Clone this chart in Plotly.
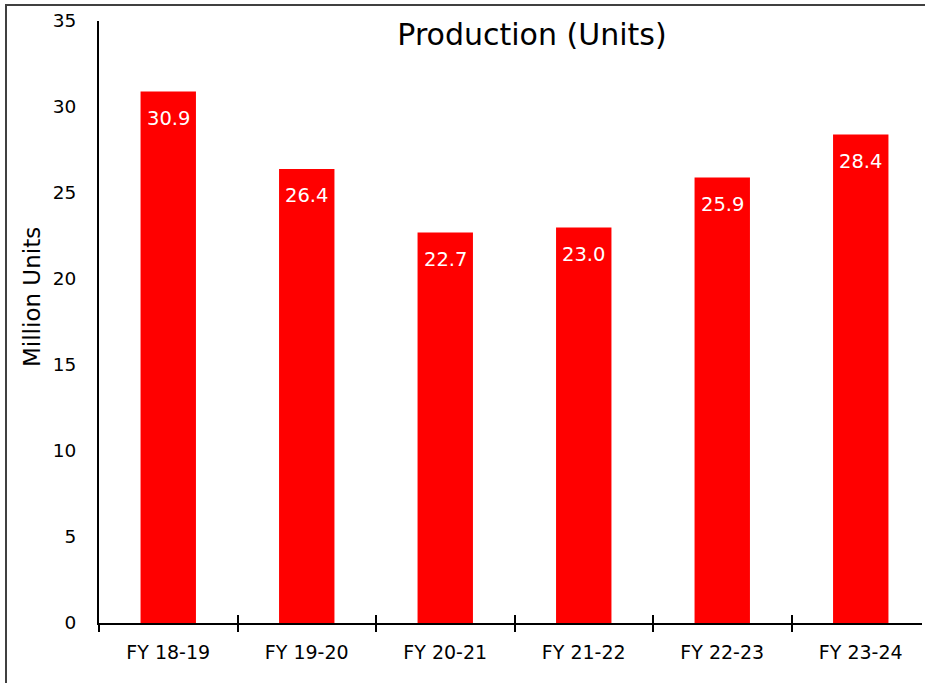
import plotly.graph_objects as go

# Production volumes by fiscal year (million units)
categories = ["FY 18-19", "FY 19-20", "FY 20-21", "FY 21-22", "FY 22-23", "FY 23-24"]
production = [30.9, 26.4, 22.7, 23.0, 25.9, 28.4]
y_ticks = [0, 5, 10, 15, 20, 25, 30, 35]

W, H = 925, 683
ML, MR, MT, MB = 99, 3, 21, 60
plot_w = W - ML - MR
plot_h = H - MT - MB
cat_px = 138.5  # pixel width of one category slot
x_max = -0.5 + plot_w / cat_px

FONT = "DejaVu Sans"
positions = list(range(len(categories)))


def px_to_paper_x(px):
    return (px - ML) / plot_w


def px_to_paper_y(py):
    return (H - MB - py) / plot_h


fig = go.Figure()
fig.add_trace(go.Bar(
    x=positions,
    y=production,
    width=0.4,
    marker=dict(color="#FF0000", line=dict(width=0)),
    hoverinfo="x+y",
))

# value labels just inside the top of each bar
for xi, v in zip(positions, production):
    fig.add_annotation(
        x=xi, y=v, xref="x", yref="y",
        text=f"{v:.1f}", showarrow=False,
        yshift=-27, font=dict(family=FONT, size=19.5, color="white"),
    )

# overlay axes carrying the two halves of the boundary ticks
boundaries = [i - 0.5 for i in range(len(categories) + 1)]

fig.update_layout(
    width=W, height=H,
    margin=dict(l=ML, r=MR, t=MT, b=MB, pad=0),
    paper_bgcolor="white", plot_bgcolor="white",
    showlegend=False,
    bargap=0.6,
    title=dict(
        text="Production (Units)",
        x=px_to_paper_x(532), xref="paper", xanchor="center",
        y=px_to_paper_y(34), yref="paper", yanchor="middle",
        font=dict(family=FONT, size=30, color="black"),
    ),
    xaxis=dict(
        range=[-0.5, x_max],
        tickmode="array", tickvals=positions, ticktext=categories,
        ticks="", showgrid=False, zeroline=False,
        showline=True, linecolor="black", linewidth=2,
        tickfont=dict(family=FONT, size=19, color="black"),
        ticklabelstandoff=11,
    ),
    xaxis2=dict(
        range=[-0.5, x_max], overlaying="x", anchor="y", side="bottom",
        tickmode="array", tickvals=boundaries, ticktext=[""] * len(boundaries),
        ticks="outside", ticklen=8, tickwidth=2, tickcolor="black",
        showticklabels=False, showgrid=False, zeroline=False, showline=False,
    ),
    xaxis3=dict(
        range=[-0.5, x_max], overlaying="x", anchor="y", side="bottom",
        tickmode="array", tickvals=boundaries, ticktext=[""] * len(boundaries),
        ticks="inside", ticklen=8, tickwidth=2, tickcolor="black",
        showticklabels=False, showgrid=False, zeroline=False, showline=False,
    ),
    yaxis=dict(
        range=[0, 35], tickmode="array", tickvals=y_ticks,
        ticks="", showgrid=False, zeroline=False,
        showline=True, linecolor="black", linewidth=2,
        tickfont=dict(family=FONT, size=18.5, color="black"),
        ticklabelstandoff=17,
    ),
)

# invisible traces so the overlay axes are drawn
for ax in ("x2", "x3"):
    fig.add_trace(go.Scatter(x=[None], y=[None], xaxis=ax, yaxis="y",
                             hoverinfo="skip", showlegend=False))

# y-axis title
fig.add_annotation(
    x=px_to_paper_x(32), y=px_to_paper_y(297), xref="paper", yref="paper",
    text="Million Units", textangle=-90, showarrow=False,
    xanchor="center", yanchor="middle",
    font=dict(family=FONT, size=23, color="black"),
)

# chart frame along the top and left edges
frame = dict(color="#404040", width=2)
fig.add_shape(type="line", xref="paper", yref="paper",
              x0=px_to_paper_x(5), x1=px_to_paper_x(W + 5),
              y0=px_to_paper_y(5), y1=px_to_paper_y(5), line=frame)
fig.add_shape(type="line", xref="paper", yref="paper",
              x0=px_to_paper_x(6), x1=px_to_paper_x(6),
              y0=px_to_paper_y(5), y1=px_to_paper_y(H + 5), line=frame)

fig.write_html("out.html", config={"displayModeBar": False})
